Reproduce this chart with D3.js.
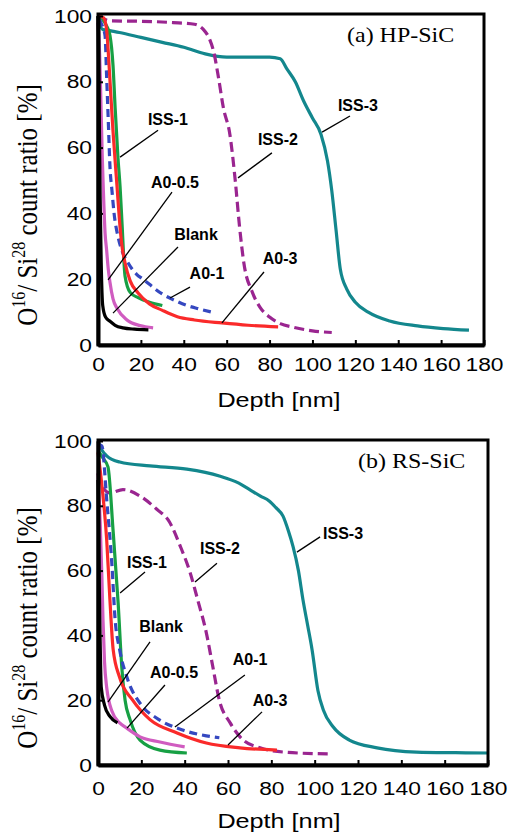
<!DOCTYPE html>
<html>
<head>
<meta charset="utf-8">
<script src="https://cdn.jsdelivr.net/npm/d3@7"></script>
<style>
  body { margin: 0; background: #fff; }
</style>
</head>
<body>
<svg width="508" height="834"></svg>
<script>
// Axis ticks
var depthTicks = [0, 20, 40, 60, 80, 100, 120, 140, 160, 180];
var ratioTicks = [0, 20, 40, 60, 80, 100];

// Series names, drawing order
var seriesNames = ["ISS-3", "ISS-2", "ISS-1", "A0-1", "A0-3", "A0-0.5", "Blank"];

// (a) HP-SiC : [depth nm, O16/Si28 %]
var hpIss3 = [[0,100],[2,96],[6,95.5],[10,95],[20,93.5],[30,92],[40,90.5],[50,88.5],[60,87.5],[70,87.5],[80,87.5],[85,87],[88,84],[92,80],[96,74],[100,69],[104,64],[107,56],[109,47],[111,35],[113,23],[116,17],[120,13],[126,10],[136,7.3],[149,5.8],[161,5],[173,4.5]];
var hpIss2 = [[0,100],[3,99],[6,98.5],[20,98.4],[35,98],[45,97.5],[49,96],[52,93],[54,89],[56,82],[58.5,72],[61.5,64],[64,50],[66,36],[68,25],[72,16],[75.5,11.5],[80,8.5],[85,6.5],[91,5.4],[100,4.3],[109,3.8]];
var hpIss1 = [[0,100],[2,99],[4,97],[5.6,94],[7,85],[8,72],[9.3,57],[10.3,48],[11.2,37],[12.6,21],[15,16],[18.7,14.4],[24,13],[30,12]];
var hpA01 = [[0.5,99],[2,97],[3.3,94],[4,82],[4.8,68],[5.6,54],[6.5,47],[7.5,40],[9.3,33],[11,29],[14,25],[18,21.5],[21,20],[30,15.5],[36,13.5],[41.5,12],[47,11],[53,10]];
var hpA03 = [[0,100],[2.5,99.5],[4,96],[4.7,90],[5.8,78],[7,65],[8.9,48],[10,38],[11,31],[12.6,25],[15,19.5],[18.7,15.8],[24,12.5],[29.8,10.6],[37,8.6],[45,7.6],[57.8,6.7],[70,6],[84,5.5]];
var hpA005 = [[0,98],[0.8,88],[1.5,70],[2,57],[2.5,47],[3.3,34],[4,29],[4.8,23],[5.6,19],[7,14],[9,11],[13.5,7.6],[19.6,5.9],[25.7,5.2]];
var hpBlank = [[0,100],[0.5,75],[1,45],[1.5,25],[2.2,12],[3.5,8.5],[5.6,7.2],[8,6],[11.7,5.2],[17,4.8],[23.5,4.6]];

// (b) RS-SiC
var rsIss3 = [[0,100],[2,97],[4,95.4],[10,93.5],[24,92.3],[41,91.3],[56,89.2],[65,87],[70,85],[75,83],[79,81.5],[82,79.5],[85.4,76.8],[88,72],[90,67.5],[92.5,60],[94.6,51],[96.8,43],[98.8,35.6],[101.5,23],[104,17],[108.5,11.8],[116,7.7],[128.8,5.3],[147,4],[165,3.8],[180,3.7]];
var rsIss2 = [[0,90],[2,86],[5.5,84],[11.5,85],[19.4,83],[27,79],[33,75],[38,67.5],[42.5,59.4],[46,51],[50,40.8],[53,30.3],[56,20],[61,13],[67,7.7],[74.8,5.3],[85.4,4],[107,3.4]];
var rsIss1 = [[0,97],[2,95],[4.6,92],[7,72],[9.3,50],[11,30],[12.5,20],[14.8,14],[19.4,7.7],[28.6,4.6],[41,3.7]];
var rsA01 = [[0,99],[1.8,98.5],[4,82],[6.5,61],[7.8,45.8],[10,35.6],[13.4,27],[20,18.5],[27,14.5],[39,10.8],[50,9],[56,8.4]];
var rsA03 = [[0,96.5],[2,85],[4,69.6],[5.5,51],[7,35.6],[10,27],[16,20],[24,14],[36.5,9.9],[50,6.8],[65.5,5.3],[82.6,4.6]];
var rsA005 = [[0,90],[1,75],[1.8,58],[2.3,45],[3,32],[4,24],[6.5,16.5],[10,13],[13,11.5],[19.4,8.7],[28.6,7.1],[40,5.6]];
var rsBlank = [[0,88],[0.5,60],[1,38],[1.5,24],[3,18.5],[5.5,15],[9,13]];

// Labels: [name, text depth, text ratio, pointer from depth, from ratio, to depth, to ratio]
var hpLabels = [
  ["ISS-3", 121.2, 72.9, 117.5, 69.6, 104.5, 64.7],
  ["ISS-2", 83.9, 62.6, 81.1, 58.4, 65.3, 50.8],
  ["ISS-1", 32.6, 68.7, 28, 65.3, 10.3, 57.1],
  ["A0-0.5", 35.9, 49.5, 34.5, 46.5, 4.7, 19.8],
  ["Blank", 45.7, 33.7, 37.3, 29.8, 7, 9.7],
  ["A0-1", 50.8, 21.9, 42.9, 17.6, 33.6, 14.3],
  ["A0-3", 84.9, 26.4, 77.4, 22.2, 57.8, 6.7]
];
var rsLabels = [
  ["ISS-3", 113.1, 71.6, 102.5, 70.4, 91.8, 65.7],
  ["ISS-2", 56.3, 67, 54.9, 62.3, 44.8, 56.5],
  ["ISS-1", 22.6, 62.7, 21.7, 59.6, 10.2, 53.1],
  ["Blank", 29.1, 42.9, 24, 38, 4.6, 19.4],
  ["A0-0.5", 35.1, 28.7, 30.9, 24.7, 13.4, 11.4],
  ["A0-1", 70.2, 32.7, 67.8, 27.8, 35.5, 11.7],
  ["A0-3", 79.4, 20.1, 75.7, 16.4, 60, 6.2]
];

// line styles
var colors = {"ISS-3": "#13878d", "ISS-2": "#9a2590", "ISS-1": "#17a044", "A0-1": "#3548c0",
              "A0-3": "#fa2a2a", "A0-0.5": "#d05cc0", "Blank": "#000"};
var dashes = {"ISS-2": "10,5", "A0-1": "8,5"};

var SX = 1.2; // the picture is a little wider than tall
var svg = d3.select("svg");

var panels = [
  { title: "(a) HP-SiC", titleX: 347, titleY: 42,
    left: 98, right: 484, top: 14, bottom: 345, y100: 16,
    tickPad: 13, xLabelY: 407, yLabelY: 205,
    series: {"ISS-3": hpIss3, "ISS-2": hpIss2, "ISS-1": hpIss1, "A0-1": hpA01, "A0-3": hpA03, "A0-0.5": hpA005, "Blank": hpBlank},
    labels: hpLabels },
  { title: "(b) RS-SiC", titleX: 358, titleY: 468,
    left: 98, right: 488, top: 440, bottom: 765, y100: 441,
    tickPad: 17, xLabelY: 828, yLabelY: 628,
    series: {"ISS-3": rsIss3, "ISS-2": rsIss2, "ISS-1": rsIss1, "A0-1": rsA01, "A0-3": rsA03, "A0-0.5": rsA005, "Blank": rsBlank},
    labels: rsLabels }
];

panels.forEach(function(p) {
  var x = d3.scaleLinear().domain([0, 180]).range([p.left, p.right]);
  var y = d3.scaleLinear().domain([0, 100]).range([p.bottom, p.y100]);

  var line = d3.line()
      .x(function(d) { return x(d[0]); })
      .y(function(d) { return y(d[1]); })
      .curve(d3.curveMonotoneX);

  // curves
  seriesNames.forEach(function(name) {
    svg.append("path")
        .datum(p.series[name])
        .attr("d", line)
        .attr("fill", "none")
        .attr("stroke", colors[name])
        .attr("stroke-width", 3.2)
        .attr("stroke-dasharray", dashes[name] || null)
        .attr("stroke-linejoin", "round");
  });

  // frame
  svg.append("rect")
      .attr("x", p.left).attr("y", p.top)
      .attr("width", p.right - p.left).attr("height", p.bottom - p.top)
      .attr("fill", "none").attr("stroke", "#000").attr("stroke-width", 3);

  // axes
  var gx = svg.append("g")
      .attr("transform", "translate(0," + p.bottom + ")")
      .call(d3.axisBottom(x).tickValues(depthTicks).tickSizeInner(-5).tickSizeOuter(0).tickPadding(p.tickPad));
  var gy = svg.append("g")
      .attr("transform", "translate(" + p.left + ",0)")
      .call(d3.axisLeft(y).tickValues(ratioTicks).tickSizeInner(-5).tickSizeOuter(0).tickPadding(5));

  [gx, gy].forEach(function(g) {
    g.select(".domain").attr("stroke-width", 4);
    g.selectAll(".tick line").attr("stroke-width", 2);
    g.selectAll("text")
        .attr("font-family", "'Liberation Sans', Arial, sans-serif")
        .attr("font-size", 19)
        .attr("fill", "#000")
        .attr("transform", "scale(" + SX + ",1)");
  });

  // x label
  svg.append("text")
      .attr("transform", "translate(279," + p.xLabelY + ") scale(" + SX + ",1)")
      .attr("text-anchor", "middle")
      .attr("font-family", "'Liberation Sans', Arial, sans-serif")
      .attr("font-size", 21)
      .text("Depth [nm]");

  // y label with superscripts
  var yl = svg.append("text")
      .attr("transform", "translate(37," + p.yLabelY + ") scale(" + SX + ",1) rotate(-90)")
      .attr("text-anchor", "middle")
      .attr("font-family", "'Liberation Serif', 'Times New Roman', serif")
      .attr("font-size", 25);
  yl.append("tspan").text("O");
  yl.append("tspan").attr("dy", -10).attr("font-size", 16).text("16");
  yl.append("tspan").attr("dy", 10).text("/ Si");
  yl.append("tspan").attr("dy", -10).attr("font-size", 16).text("28");
  yl.append("tspan").attr("dy", 10).text(" count ratio [%]");

  // panel title
  svg.append("text")
      .attr("transform", "translate(" + p.titleX + "," + p.titleY + ") scale(" + SX + ",1)")
      .attr("font-family", "'Liberation Serif', 'Times New Roman', serif")
      .attr("font-size", 20)
      .text(p.title);

  // series labels and pointers
  p.labels.forEach(function(l) {
    svg.append("line")
        .attr("x1", x(l[3])).attr("y1", y(l[4]))
        .attr("x2", x(l[5])).attr("y2", y(l[6]))
        .attr("stroke", "#000").attr("stroke-width", 1.3);
    svg.append("text")
        .attr("x", x(l[1])).attr("y", y(l[2]))
        .attr("dy", "0.36em")
        .attr("text-anchor", "middle")
        .attr("font-family", "'Liberation Sans', Arial, sans-serif")
        .attr("font-weight", "bold")
        .attr("font-size", 16)
        .text(l[0]);
  });
});
</script>
</body>
</html>
